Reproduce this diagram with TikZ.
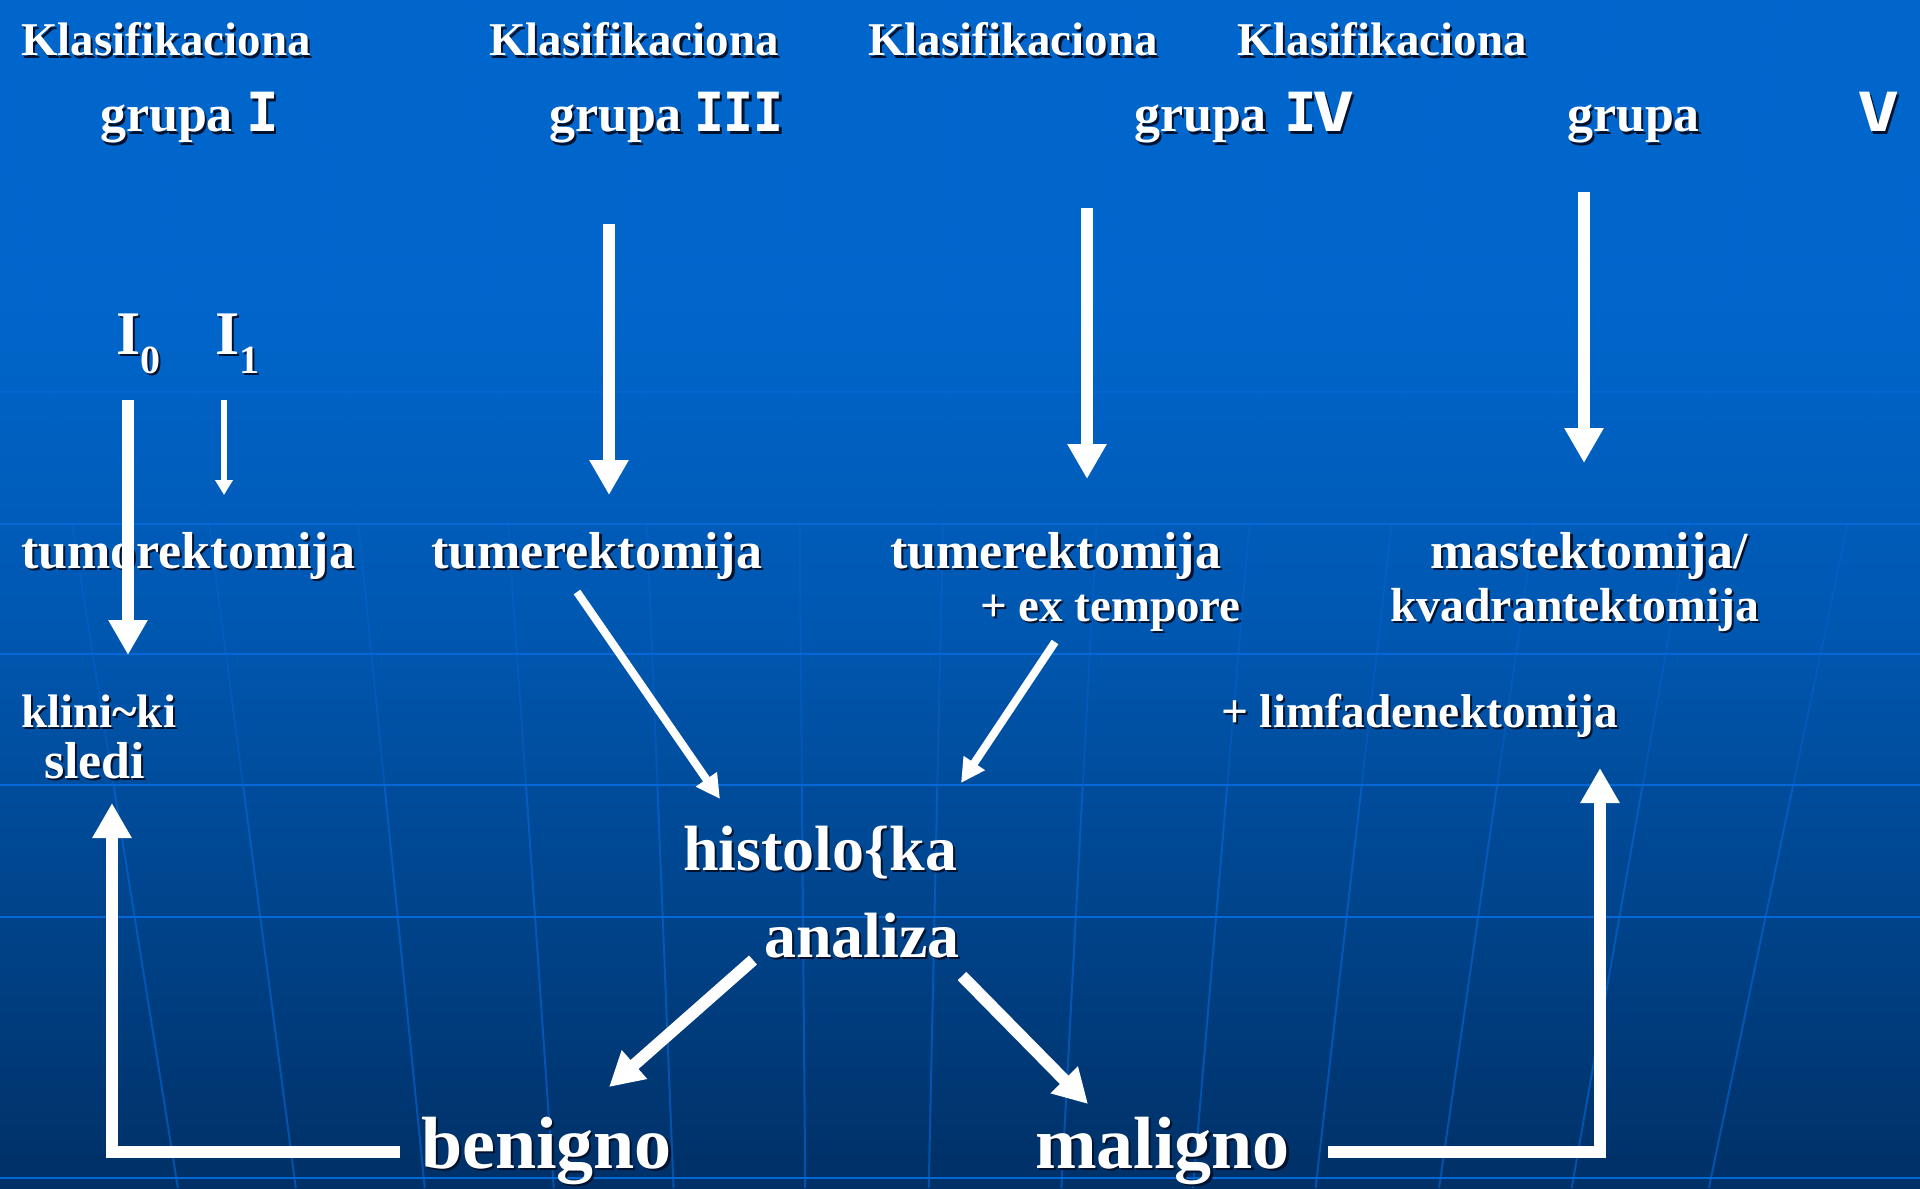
\documentclass[tikz,border=0pt]{standalone}
\usepackage{fontspec}
\setmainfont{Liberation Serif}
\newfontfamily\romfont{DejaVu Sans Mono}
\usetikzlibrary{arrows.meta}
\definecolor{bgtop}{RGB}{0,102,204}
\definecolor{bgmid}{RGB}{0,86,174}
\definecolor{bgbot}{RGB}{0,48,102}
\definecolor{gridc}{RGB}{6,104,214}
\definecolor{shadowc}{RGB}{0,18,45}
\newcommand\fs[1]{\fontsize{#1}{#1}\selectfont}
\newcommand\shd[1]{\leavevmode\rlap{\kern1.1pt\raisebox{-1.1pt}{\textcolor{shadowc}{#1}}}#1}
\newcommand\wideV{\scalebox{1.3}[1]{V}}
\begin{document}
\begin{tikzpicture}[x=0.5pt,y=-0.5pt,
  txt/.style={anchor=base west,inner sep=0pt,outer sep=0pt,text=white},
  tsmall/.style={txt,font=\bfseries\fs{23.5}},
  tmed/.style={txt,font=\bfseries\fs{26}},
  tbig/.style={txt,font=\bfseries\fs{32}},
  thuge/.style={txt,font=\bfseries\fs{37}},
  trom/.style={txt,font=\romfont\bfseries\fs{27}},
  bigarr/.style={draw=white,line width=6pt,line join=miter,-{Triangle[width=18.5pt,length=17.5pt]}},
  thinarr/.style={draw=white,line width=3pt,-{Triangle[width=8.5pt,length=7.5pt]}},
  midarr/.style={draw=white,line width=4pt,-{Triangle[width=12pt,length=12pt]}},
  diagarr/.style={draw=white,line width=6pt,-{Triangle[width=18pt,length=17pt]}},
  hline/.style={draw=gridc,line width=1.3pt},
  vline/.style={draw=gridc,line width=1pt}]
\useasboundingbox (0,0) rectangle (1920,1188);
% background
\fill[bgtop] (0,0) rectangle (1920,301);
\shade[top color=bgtop,bottom color=bgmid] (0,300) rectangle (1920,651);
\shade[top color=bgmid,bottom color=bgbot] (0,650) rectangle (1920,1188);
\draw[hline,opacity=0.35] (0,262) -- (1920,262);
\draw[hline,opacity=0.7] (0,392) -- (1920,392);
\foreach \y in {524,654,785,917,1178}
  \draw[hline] (0,\y) -- (1920,\y);
\foreach \x in {116,245,386,527,658,802,937,1082,1226,1360,1495,1640,1790}{
  \draw[vline,opacity=0.12] ({\x-(840-\x)*0.176},0) -- ({\x-(840-\x)*0.0607},524);
  \draw[vline,opacity=0.35] ({\x-(840-\x)*0.0607},524) -- ({\x-(840-\x)*0.0033},785);
  \draw[vline,opacity=0.6] ({\x-(840-\x)*0.0033},785) -- ({\x+(840-\x)*0.0854},1188);
}
% headings
\node[tsmall] (k1) at (21,56) {\shd{Klasifikaciona}};
\node[tsmall] (k2) at (489,56) {\shd{Klasifikaciona}};
\node[tsmall] (k3) at (868,56) {\shd{Klasifikaciona}};
\node[tsmall] (k4) at (1237,56) {\shd{Klasifikaciona}};
\node[tmed] (g1) at (100,132) {\shd{grupa}};
\node[tmed] (g3) at (549,132) {\shd{grupa}};
\node[tmed] (g4) at (1134,132) {\shd{grupa}};
\node[tmed] (g5) at (1567,132) {\shd{grupa}};
\node[trom] (r1) at (246,132) {\shd{I}};
\node[trom] (r3) at (694,132) {\shd{\scalebox{0.92}[1]{III}}};
\node[trom] (r4) at (1284,132) {\shd{I\kern-2pt\wideV}};
\node[trom] (r5) at (1857,132) {\shd{\wideV}};
% I0 I1
\node[txt,font=\bfseries\fs{31}] (i0) at (116,354) {\shd{I}\raisebox{-9.5pt}{\fs{20}\shd{0}}};
\node[txt,font=\bfseries\fs{31}] (i1) at (215,354) {\shd{I}\raisebox{-9.5pt}{\fs{20}\shd{1}}};
% second row
\node[tmed] (tum1) at (21,568) {\shd{tumorektomija}};
\node[tmed] (tum2) at (431,568) {\shd{tumerektomija}};
\node[tmed] (tum3) at (890,568) {\shd{tumerektomija}};
\node[tsmall] (ext) at (980,621) {\shd{+ ex tempore}};
\node[tmed] (mast) at (1430,568) {\shd{mastektomija/}};
\node[txt,font=\bfseries\fs{23.9}] (kvad) at (1390,621) {\shd{kvadrantektomija}};
% third row
\node[tsmall] (klin) at (21,727) {\shd{klini\textasciitilde ki}};
\node[tmed] (sled) at (44,778) {\shd{sledi}};
\node[txt,font=\bfseries\fs{23.7}] (limf) at (1221,727) {\shd{+ limfadenektomija}};
% histology
\node[tbig] (hist) at (683,870) {\shd{histolo\{ka}};
\node[tbig] (anal) at (764,957) {\shd{analiza}};
% outcomes
\node[thuge] (ben) at (421,1168) {\shd{benigno}};
\node[thuge] (mal) at (1035,1168) {\shd{maligno}};
% connector end points
\coordinate (a0s) at (128,400); \coordinate (a0e) at (128,655);
\coordinate (a1s) at (224,400); \coordinate (a1e) at (224,495);
\coordinate (a3s) at (609,224); \coordinate (a3e) at (609,495);
\coordinate (a4s) at (1087,208); \coordinate (a4e) at (1087,479);
\coordinate (a5s) at (1584,192); \coordinate (a5e) at (1584,463);
\coordinate (h1s) at (577,592); \coordinate (h1e) at (720,799);
\coordinate (h2s) at (1055,642); \coordinate (h2e) at (961,783);
\coordinate (bs) at (753,960); \coordinate (be) at (609,1087);
\coordinate (ms) at (962,976); \coordinate (me) at (1088,1104);
\coordinate (lbs) at (400,1152); \coordinate (lbc) at (112,1152); \coordinate (lbe) at (112,803);
\coordinate (rms) at (1328,1152); \coordinate (rmc) at (1600,1152); \coordinate (rme) at (1600,768);
% connectors
\draw[bigarr] (a0s) -- (a0e);
\draw[thinarr] (a1s) -- (a1e);
\draw[bigarr] (a3s) -- (a3e);
\draw[bigarr] (a4s) -- (a4e);
\draw[bigarr] (a5s) -- (a5e);
\draw[midarr] (h1s) -- (h1e);
\draw[midarr] (h2s) -- (h2e);
\draw[diagarr] (bs) -- (be);
\draw[diagarr] (ms) -- (me);
\draw[bigarr] (lbs) -- (lbc) -- (lbe);
\draw[bigarr] (rms) -- (rmc) -- (rme);
\end{tikzpicture}
\end{document}
